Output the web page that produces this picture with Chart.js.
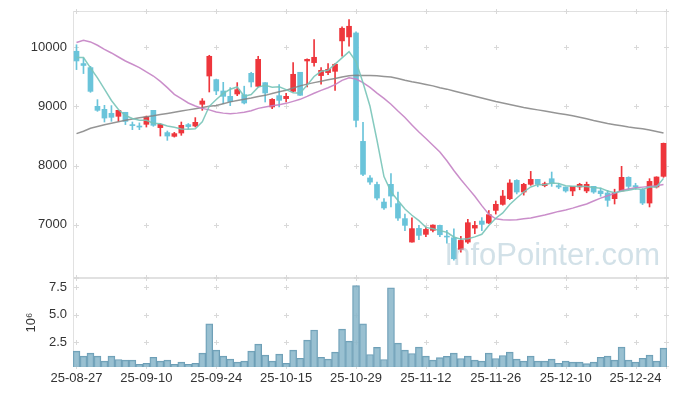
<!DOCTYPE html>
<html>
<head>
<meta charset="utf-8">
<script src="https://cdn.jsdelivr.net/npm/chart.js@4"></script>
<style>
  body { margin: 0; background: #fff; }
  #wrap { position: relative; width: 677px; height: 396px; }
  #priceChart { position: absolute; left: 0; top: 0; }
  #volChart { position: absolute; left: 0; top: 278px; }
</style>
</head>
<body>
<div id="wrap">
  <canvas id="priceChart" width="677" height="280"></canvas>
  <canvas id="volChart" width="677" height="118"></canvas>
</div>
<script>
// trading days
const dates = ['25-08-27','25-08-28','25-08-29','25-09-01','25-09-02','25-09-03','25-09-04','25-09-05','25-09-08','25-09-09',
  '25-09-10','25-09-11','25-09-12','25-09-15','25-09-16','25-09-17','25-09-18','25-09-19','25-09-22','25-09-23',
  '25-09-24','25-09-25','25-09-26','25-09-29','25-09-30','25-10-01','25-10-02','25-10-10','25-10-13','25-10-14',
  '25-10-15','25-10-16','25-10-17','25-10-20','25-10-21','25-10-22','25-10-23','25-10-24','25-10-27','25-10-28',
  '25-10-29','25-10-30','25-10-31','25-11-03','25-11-04','25-11-05','25-11-06','25-11-07','25-11-10','25-11-11',
  '25-11-12','25-11-13','25-11-14','25-11-17','25-11-18','25-11-19','25-11-20','25-11-21','25-11-24','25-11-25',
  '25-11-26','25-11-27','25-11-28','25-12-01','25-12-02','25-12-03','25-12-04','25-12-05','25-12-08','25-12-09',
  '25-12-10','25-12-11','25-12-12','25-12-15','25-12-16','25-12-17','25-12-18','25-12-19','25-12-22','25-12-23',
  '25-12-24','25-12-26','25-12-29','25-12-30','26-01-02'];

const opens = [9930,9722,9654,9000,8949,8882,8831,8899,8691,8667, 8696,8932,8640,8556,8493,8549,8691,8667,9034,9512,
  9451,9259,9169,9208,9197,9557,9338,9400,8989,9180, 9130,9253,9575,9766,9738,9519,9569,9591,10105,10172,
  10239,8408,7790,7680,7383,7682,7356,7103,6707,6938, 6837,6904,6989,6808,6780,6583,6707,6943,7062,7028,
  7242,7344,7440,7749,7552,7682,7766,7660,7777,7660, 7637,7570,7637,7570,7648,7570,7536,7440,7570,7800,
  7660,7592,7366,7637,7817];
const highs = [10040,9816,9676,9113,9017,9012,8932,8899,8735,8720, 8836,8932,8708,8583,8560,8735,8710,8809,9130,9862,
  9460,9405,9316,9400,9340,9575,9845,9400,9130,9366, 9220,9738,9575,9800,10127,9654,9721,9721,10341,10465,
  10260,8729,7830,7720,7440,7863,7552,7180,7118,6989, 6960,7000,6995,6904,6930,6803,7090,7056,7120,7240,
  7400,7580,7761,7761,7700,7901,7766,7720,7890,7700, 7637,7648,7700,7720,7648,7620,7580,7600,7986,7810,
  7700,7610,7778,7810,8380];
const lows = [9620,9553,9236,8915,8735,8746,8746,8691,8606,8606, 8650,8662,8498,8425,8480,8510,8620,8651,8932,9242,
  9197,9045,9011,9180,9040,9327,9327,9073,8960,8989, 9073,9242,9186,9327,9676,9372,9536,9270,9845,10014,
  8650,7830,7680,7420,7260,7300,7073,6900,6707,6749, 6800,6880,6800,6690,6400,6538,6684,6848,6900,7020,
  7180,7330,7424,7520,7500,7665,7640,7640,7648,7610, 7550,7490,7590,7540,7530,7480,7310,7350,7570,7600,
  7600,7340,7300,7620,7800];
const closes = [9766,9690,9253,8932,8802,8814,8932,8746,8674,8650, 8820,8679,8696,8498,8539,8679,8657,8730,9090,9845,
  9259,9169,9079,9282,9056,9411,9794,9225,9118,9101, 9169,9541,9186,9794,9828,9608,9625,9710,10318,10352,
  8763,7851,7720,7450,7283,7484,7112,6989,6934,6820, 6921,6994,6831,6792,6425,6735,7034,6989,7006,7170,
  7344,7484,7705,7552,7682,7766,7682,7693,7705,7637, 7570,7648,7682,7682,7552,7525,7412,7536,7800,7648,
  7637,7366,7732,7806,8375];

// moving averages
const ma5 = [9825,9825,9650,9480,9289,9098,8947,8845,8794,8763, 8764,8714,8704,8669,8646,8618,8614,8621,8739,9000,
  9116,9219,9288,9327,9169,9199,9324,9354,9321,9330, 9281,9231,9223,9358,9504,9591,9608,9713,9818,9923,
  9754,9399,9001,8427,7813,7558,7410,7264,7160,7068, 6955,6932,6900,6872,6793,6755,6763,6795,6838,6987,
  7109,7199,7342,7451,7553,7638,7677,7675,7706,7697, 7657,7651,7648,7644,7627,7618,7571,7541,7565,7584,
  7607,7597,7637,7638,7783];
const ma20 = [10078,10115,10088,10031,9963,9901,9833,9766,9710,9654, 9580,9512,9422,9316,9203,9130,9056,9005,8965,8940,
  8905,8885,8875,8885,8900,8925,8965,8990,9008,9025, 9050,9083,9118,9167,9220,9270,9314,9367,9438,9481,
  9460,9400,9320,9222,9135,9036,8920,8810,8685,8565, 8457,8343,8228,8080,7915,7765,7622,7480,7322,7177,
  7100,7085,7080,7085,7100,7115,7140,7165,7195,7225, 7250,7280,7315,7350,7400,7450,7490,7530,7580,7605,
  7625,7635,7645,7660,7680];
const ma60 = [8538,8580,8630,8660,8690,8715,8740,8765,8785,8805, 8825,8840,8860,8880,8900,8920,8940,8960,8980,9000,
  9015,9045,9075,9100,9120,9140,9165,9185,9215,9245, 9270,9310,9345,9375,9400,9425,9450,9470,9495,9515,
  9525,9522,9520,9515,9505,9495,9470,9440,9415,9395, 9370,9345,9315,9290,9260,9230,9200,9170,9140,9110,
  9080,9055,9030,9005,8980,8960,8940,8920,8900,8880, 8860,8840,8815,8790,8760,8735,8710,8690,8670,8650,
  8635,8620,8600,8575,8550];

const volumes = [1700000,1250000,1520000,1250000,790000,1250000,940000,880000,880000,510000,
  600000,1150000,790000,880000,510000,700000,510000,600000,1520000,4180000,
  1790000,1250000,970000,700000,790000,1700000,2340000,1340000,790000,1430000,
  600000,1790000,1060000,2710000,3630000,1150000,970000,1610000,3700000,2620000,
  7660000,4180000,1400000,2040000,940000,7470000,2440000,1790000,1490000,2070000,
  1250000,880000,1120000,1220000,1520000,1030000,1250000,880000,790000,1520000,
  1030000,1310000,1610000,970000,790000,1250000,790000,790000,970000,600000,
  790000,700000,700000,570000,700000,1150000,1250000,880000,2070000,880000,
  700000,1060000,1340000,790000,1980000];

const priceTicks = [7000, 8000, 9000, 10000];
const volTicks = [2500000, 5000000, 7500000];

const UP = '#ee363c';
const DOWN = '#6ac4da';
const candleColor = c => closes[c.dataIndex] >= opens[c.dataIndex] ? UP : DOWN;
const tickFont = { family: 'Liberation Sans', size: 13 };

// y axis: fixed width, no extra label padding
const fitY = s => { s.width = 73; s.paddingTop = 0; s.paddingBottom = 0; };

// light frame, "+" marks at grid points, watermark
function framePlugin(yTicks, watermark) {
  return {
    id: 'frame',
    beforeDatasetsDraw(chart) {
      const { ctx, chartArea: a, scales } = chart;
      ctx.save();
      ctx.strokeStyle = '#e1e1e1';
      ctx.lineWidth = 1;
      ctx.strokeRect(Math.round(a.left) + 0.5, Math.round(a.top) + 0.5,
        Math.round(a.right - a.left) - 1, Math.round(a.bottom - a.top) - 1);
      ctx.strokeStyle = '#d9d9d9';
      const xs = dates.map((d, i) => i).filter(i => i % 10 === 0).map(i => scales.x.getPixelForValue(i));
      xs.push(a.right - 1);
      const ys = yTicks.map(v => scales.y.getPixelForValue(v)).concat([a.top, a.bottom - 1]);
      ctx.beginPath();
      xs.forEach(x => ys.forEach(y => {
        const px = Math.round(x) + 0.5, py = Math.round(y) + 0.5;
        ctx.moveTo(px - 2.5, py); ctx.lineTo(px + 2.5, py);
        ctx.moveTo(px, py - 2.5); ctx.lineTo(px, py + 2.5);
      }));
      ctx.stroke();
      ctx.restore();
    },
    afterDatasetsDraw(chart) {
      if (!watermark) return;
      const { ctx } = chart;
      ctx.save();
      ctx.font = '31px "Liberation Sans"';
      ctx.fillStyle = 'rgba(165,195,210,0.5)';
      ctx.textAlign = 'right';
      ctx.textBaseline = 'alphabetic';
      ctx.fillText(watermark, 660, 265);
      ctx.restore();
    }
  };
}

new Chart(document.getElementById('priceChart'), {
  type: 'bar',
  data: {
    labels: dates,
    datasets: [
      { type: 'line', data: ma5, borderColor: 'rgba(120,196,184,0.9)', borderWidth: 1.5, pointRadius: 0, order: 0 },
      { type: 'line', data: ma20, borderColor: 'rgba(196,130,196,0.9)', borderWidth: 1.5, pointRadius: 0, order: 0 },
      { type: 'line', data: ma60, borderColor: 'rgba(130,130,130,0.85)', borderWidth: 1.5, pointRadius: 0, order: 0 },
      { data: opens.map((o, i) => [o, closes[i]]), backgroundColor: candleColor, barThickness: 5,
        grouped: false, borderSkipped: false, order: 1 },
      { data: lows.map((l, i) => [l, highs[i]]), backgroundColor: candleColor, barThickness: 1,
        grouped: false, borderSkipped: false, order: 2 }
    ]
  },
  options: {
    responsive: false,
    animation: false,
    devicePixelRatio: 1,
    layout: { padding: { top: 11, right: 10, bottom: 2, left: 0 } },
    plugins: { legend: { display: false }, tooltip: { enabled: false } },
    scales: {
      x: { display: false, offset: true },
      y: {
        min: 6100, max: 10610,
        afterBuildTicks: s => { s.ticks = priceTicks.map(v => ({ value: v })); },
        afterFit: fitY,
        grid: { display: false, drawTicks: false },
        border: { display: false },
        ticks: { color: '#333', font: tickFont, padding: 6, callback: v => String(v) }
      }
    }
  },
  plugins: [framePlugin(priceTicks, 'InfoPointer.com')]
});

new Chart(document.getElementById('volChart'), {
  type: 'bar',
  data: {
    labels: dates,
    datasets: [{
      data: volumes, backgroundColor: 'rgba(135,181,201,0.85)', borderColor: '#6d9eb6', borderWidth: 1,
      barPercentage: 1, categoryPercentage: 1, borderSkipped: false
    }]
  },
  options: {
    responsive: false,
    animation: false,
    devicePixelRatio: 1,
    layout: { padding: { top: 0, right: 10, bottom: 0, left: 0 } },
    plugins: { legend: { display: false }, tooltip: { enabled: false } },
    scales: {
      x: {
        offset: true,
        afterFit: s => { s.height = 29; s.paddingLeft = 0; s.paddingRight = 0; },
        grid: { display: false, drawTicks: false },
        border: { display: false },
        ticks: {
          color: '#333', font: tickFont, padding: 4, autoSkip: false, maxRotation: 0,
          callback: (v, i) => i % 10 === 0 ? dates[i] : null
        }
      },
      y: {
        min: 260000, max: 8360000,
        afterBuildTicks: s => { s.ticks = volTicks.map(v => ({ value: v })); },
        afterFit: fitY,
        grid: { display: false, drawTicks: false },
        border: { display: false },
        ticks: { color: '#333', font: tickFont, padding: 6, callback: v => (v / 1e6).toFixed(1) },
        title: { display: true, text: '10⁶', color: '#333', font: tickFont, padding: { top: 24, bottom: 0 } }
      }
    }
  },
  plugins: [framePlugin(volTicks, null)]
});
</script>
</body>
</html>
